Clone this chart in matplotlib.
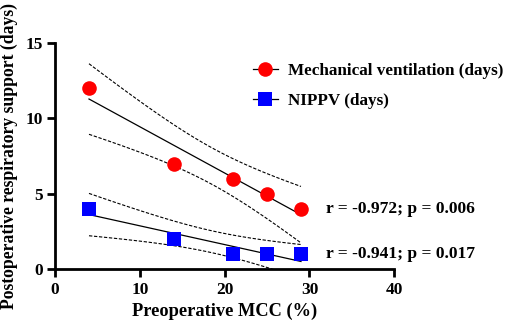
import numpy as np
import matplotlib
matplotlib.use("Agg")
import matplotlib.pyplot as plt
from matplotlib.lines import Line2D

plt.rcParams["font.family"] = ["Liberation Serif", "DejaVu Serif"]
plt.rcParams["font.weight"] = "bold"

mcc = np.array([4, 14, 21, 25, 29])
mv_days = np.array([12, 7, 6, 5, 4])
nippv_days = np.array([4, 2, 1, 1, 1])

labels = ["Mechanical ventilation (days)", "NIPPV (days)"]
stats_text = ["r = -0.972; p = 0.006", "r = -0.941; p = 0.017"]
t_crit = 3.182  # t(0.975, df=3)


def fit_band(x, y, xs):
    slope, intercept = np.polyfit(x, y, 1)
    resid = y - (slope * x + intercept)
    s = np.sqrt(np.sum(resid ** 2) / (len(x) - 2))
    sxx = np.sum((x - x.mean()) ** 2)
    se = s * np.sqrt(1 / len(x) + (xs - x.mean()) ** 2 / sxx)
    fit = slope * xs + intercept
    return fit, fit - t_crit * se, fit + t_crit * se


fig = plt.figure(figsize=(5.1, 3.25), dpi=100)
ax = fig.add_axes([0.108, 0.172, 0.665, 0.696])

xs = np.linspace(mcc.min(), mcc.max(), 100)

for y, color, marker, ms in [
    (mv_days, "#ff0000", "o", 10.5),
    (nippv_days, "#0000ff", "s", 10),
]:
    fit, lo, hi = fit_band(mcc, y, xs)
    ax.plot(xs, fit, color="black", linewidth=0.9, zorder=2)
    ax.plot(xs, lo, color="black", linewidth=0.8, linestyle=(0, (3, 1.5)), zorder=2)
    ax.plot(xs, hi, color="black", linewidth=0.8, linestyle=(0, (3, 1.5)), zorder=2)
    ax.plot(mcc, y, linestyle="none", marker=marker, markersize=ms,
            color=color, markeredgewidth=0, zorder=3, clip_on=False)

ax.text(32, 4, stats_text[0], fontsize=12.6, fontweight="bold", va="center")
ax.text(32, 1, stats_text[1], fontsize=12.6, fontweight="bold", va="center")

ax.set_xlim(0, 40)
ax.set_ylim(0, 15)
ax.set_xticks([0, 10, 20, 30, 40])
ax.set_yticks([0, 5, 10, 15])

for side in ["top", "right"]:
    ax.spines[side].set_visible(False)
for side in ["left", "bottom"]:
    ax.spines[side].set_linewidth(2)

ax.tick_params(axis="both", width=2, length=6, labelsize=12.5, pad=3)
for lab in ax.get_xticklabels() + ax.get_yticklabels():
    lab.set_fontweight("bold")

ax.set_xlabel("Preoperative MCC (%)", fontsize=13.2, fontweight="bold", labelpad=4)
ax.set_ylabel("Postoperative respiratory support (days)", fontsize=12.7, fontweight="bold",
              labelpad=5)

handles = [
    Line2D([], [], color="black", linewidth=0.9, marker="o", markersize=10.5,
           markerfacecolor="#ff0000", markeredgewidth=0),
    Line2D([], [], color="black", linewidth=0.9, marker="s", markersize=10,
           markerfacecolor="#0000ff", markeredgewidth=0),
]
fig.legend(handles, labels, loc="upper left", bbox_to_anchor=(0.465, 0.855),
           frameon=False, prop={"size": 12.3, "weight": "bold"},
           handlelength=1.5, handletextpad=0.6, labelspacing=0.85)

fig.savefig("out.png", dpi=100)
